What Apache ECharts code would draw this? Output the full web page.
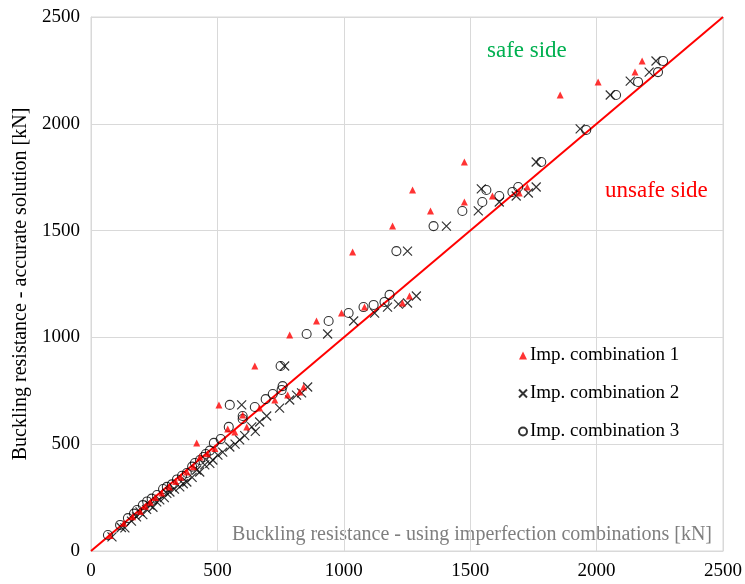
<!DOCTYPE html>
<html>
<head>
<meta charset="utf-8">
<script src="https://cdn.jsdelivr.net/npm/echarts@6/dist/echarts.min.js"></script>
<style>html,body{margin:0;padding:0;background:#fff}#c{width:745px;height:584px}</style>
</head>
<body>
<div id="c"></div>
<script>
var xTicks = [0, 500, 1000, 1500, 2000, 2500];
var seriesNames = ['Imp. combination 1', 'Imp. combination 2', 'Imp. combination 3'];
var refLine = [[0, 0], [2500, 2500]];

var comb1 = [
  [2180, 2294], [2152, 2242], [2006, 2196], [1856, 2135], [1477, 1821],
  [1272, 1690], [1343, 1592], [1193, 1521], [1035, 1400], [1477, 1634],
  [1588, 1662], [1694, 1676], [1726, 1704], [1260, 1194], [1232, 1161],
  [1082, 1142], [991, 1114], [892, 1077], [786, 1011], [648, 866],
  [506, 684], [418, 506], [841, 768], [825, 744], [778, 730], [727, 707],
  [667, 669], [600, 637], [616, 581], [541, 571], [569, 557], [431, 440],
  [75, 72], [130, 130], [165, 160], [195, 185], [215, 210], [235, 228],
  [255, 250], [280, 272], [310, 300], [335, 325], [355, 345], [380, 370],
  [405, 395], [460, 455], [490, 480]
];
var comb2 = [
  [2235, 2294], [2208, 2242], [2133, 2200], [2054, 2135], [1935, 1976],
  [1761, 1821], [1761, 1704], [1730, 1676], [1682, 1662], [1615, 1634],
  [1544, 1695], [1532, 1592], [1406, 1521], [1252, 1404], [1287, 1194],
  [1252, 1161], [1216, 1156], [1173, 1142], [1122, 1114], [1039, 1077],
  [936, 1016], [766, 866], [857, 768], [833, 740], [813, 730], [786, 707],
  [746, 669], [695, 632], [667, 604], [636, 581], [596, 684], [588, 520],
  [549, 487], [521, 463], [502, 449], [482, 426], [450, 403], [418, 379],
  [379, 323], [83, 66], [120, 110], [134, 108], [160, 140], [180, 160],
  [194, 183], [205, 170], [220, 195], [233, 215], [245, 205], [260, 230],
  [272, 239], [290, 250], [300, 270], [312, 276], [330, 290], [351, 300],
  [365, 315], [400, 345], [430, 370], [470, 410], [570, 500], [608, 540],
  [650, 560]
];
var comb3 = [
  [2263, 2294], [2243, 2242], [2164, 2196], [2077, 2135], [1959, 1971],
  [1781, 1821], [1690, 1704], [1667, 1681], [1615, 1662], [1564, 1690],
  [1548, 1634], [1469, 1592], [1355, 1521], [1208, 1404], [1181, 1199],
  [1161, 1166], [1118, 1152], [1078, 1142], [1019, 1114], [940, 1077],
  [853, 1016], [750, 866], [758, 772], [754, 754], [719, 735], [691, 711],
  [648, 674], [549, 684], [600, 632], [600, 618], [545, 581], [513, 524],
  [486, 506], [454, 454], [431, 426], [411, 412], [379, 365], [67, 75],
  [115, 122], [146, 154], [170, 175], [182, 192], [205, 215], [222, 232],
  [240, 245], [261, 262], [285, 290], [300, 300], [320, 312], [340, 335],
  [360, 352], [400, 395], [445, 440], [470, 470]
];

var SERIF = '"Liberation Serif", "DejaVu Serif", serif';
var crossPath = 'path://M0,0L10,10M10,0L0,10';

var chart = echarts.init(document.getElementById('c'), null, {renderer: 'canvas'});
chart.setOption({
  animation: false,
  backgroundColor: '#fff',
  grid: {left: 91, right: 21, top: 17, bottom: 33, show: true, borderColor: '#d9d9d9', borderWidth: 1},
  xAxis: {
    type: 'value', min: 0, max: 2500, interval: 500,
    axisLine: {show: true, lineStyle: {color: '#d9d9d9'}},
    axisTick: {show: false},
    splitLine: {show: true, lineStyle: {color: '#d9d9d9', width: 1}},
    axisLabel: {color: '#000', fontFamily: SERIF, fontSize: 19, margin: 11,
      formatter: function (v) { return xTicks.indexOf(v) >= 0 ? String(v) : ''; }}
  },
  yAxis: {
    type: 'value', min: 0, max: 2500, interval: 500,
    name: 'Buckling resistance - accurate solution [kN]',
    nameLocation: 'middle', nameGap: 58,
    nameTextStyle: {color: '#000', fontFamily: SERIF, fontSize: 20},
    axisLine: {show: true, lineStyle: {color: '#d9d9d9'}},
    axisTick: {show: false},
    splitLine: {show: true, lineStyle: {color: '#d9d9d9', width: 1}},
    axisLabel: {color: '#000', fontFamily: SERIF, fontSize: 19, margin: 11,
      formatter: function (v) { return String(v); }}
  },
  legend: {
    data: seriesNames,
    orient: 'vertical', left: 513, top: 341, itemGap: 19,
    itemWidth: 8, itemHeight: 8,
    textStyle: {color: '#000', fontFamily: SERIF, fontSize: 19, padding: [0, 0, 0, -2]}
  },
  graphic: [
    {type: 'text', right: 33, top: 525, style: {text: 'Buckling resistance - using imperfection combinations [kN]', fill: '#7f7f7f', font: '20px ' + SERIF}},
    {type: 'text', left: 487, top: 39, style: {text: 'safe side', fill: '#00b050', font: '23px ' + SERIF}},
    {type: 'text', left: 605, top: 179, style: {text: 'unsafe side', fill: '#ff0000', font: '23px ' + SERIF}}
  ],
  series: [
    {type: 'line', data: refLine, symbol: 'none', silent: true, z: 1,
      lineStyle: {color: '#ff0000', width: 2}},
    {name: seriesNames[0], type: 'scatter', data: comb1, symbol: 'triangle', symbolSize: 7, z: 3,
      itemStyle: {color: '#ff0000'}},
    {name: seriesNames[1], type: 'scatter', data: comb2, symbol: crossPath, symbolSize: 9, z: 2,
      itemStyle: {color: 'rgba(0,0,0,0)', borderColor: '#000', borderWidth: 1.2}},
    {name: seriesNames[2], type: 'scatter', data: comb3, symbol: 'circle', symbolSize: 9, z: 2,
      itemStyle: {color: 'rgba(0,0,0,0)', borderColor: '#000', borderWidth: 1.1}}
  ]
});
</script>
</body>
</html>
